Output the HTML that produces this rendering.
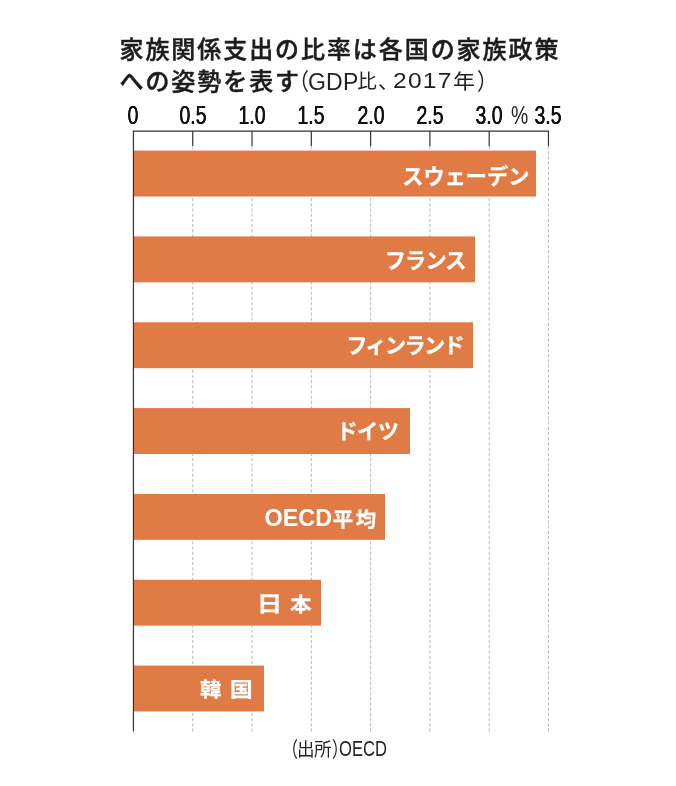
<!DOCTYPE html>
<html lang="ja"><head><meta charset="utf-8"><title>家族関係支出の比率</title>
<style>
html,body{margin:0;padding:0;background:#fff;}
body{width:676px;height:786px;position:relative;overflow:hidden;font-family:"Liberation Sans","Noto Sans CJK JP",sans-serif;color:#1a1a1a;}
.t{position:absolute;white-space:nowrap;line-height:1;}
.title{font-family:"Liberation Sans","Noto Sans CJK JP",sans-serif;font-weight:500;font-size:24px;left:119.5px;letter-spacing:1.93px;color:#1c1c1c;-webkit-text-stroke:0.45px #1c1c1c;}
.ax{font-size:25px;width:80px;text-align:center;transform:scaleX(0.775);transform-origin:50% 50%;top:102.6px;color:#111;text-shadow:0.27px 0 0 #111,-0.27px 0 0 #111;}
.lab{position:absolute;color:#fff;-webkit-text-stroke:0.25px #fff;font-family:"Liberation Sans","Noto Sans CJK JP",sans-serif;font-weight:700;font-size:21.2px;white-space:nowrap;line-height:1;}
.dk{position:absolute;white-space:nowrap;line-height:1;color:#222;font-family:"Liberation Sans","Noto Sans CJK JP",sans-serif;font-weight:400;}
svg{position:absolute;left:0;top:0;}
</style></head><body>
<div class="t title" id="t1" style="top:38px;">家族関係支出の比率は各国の家族政策</div>
<div class="t title" id="t2" style="top:69.5px;">への姿勢を表す</div>

<div class="t ax" style="left:93.45px;">0</div>
<div class="t ax" style="left:152.74px;">0.5</div>
<div class="t ax" style="left:212.03px;">1.0</div>
<div class="t ax" style="left:271.32px;">1.5</div>
<div class="t ax" style="left:330.61px;">2.0</div>
<div class="t ax" style="left:389.90px;">2.5</div>
<div class="t ax" style="left:449.19px;">3.0</div>
<div class="t ax" style="left:508.48px;">3.5</div>
<div class="t" id="pct" style="left:510.6px;top:103.2px;font-size:25px;transform:scaleX(0.775);transform-origin:0 50%;color:#222;">%</div>
<svg width="676" height="786" viewBox="0 0 676 786">
<line x1="192.74" y1="146" x2="192.74" y2="731.6" stroke="#b0b0b0" stroke-width="0.85" stroke-dasharray="3.3 1.9"/>
<line x1="192.74" y1="131.1" x2="192.74" y2="146" stroke="#333" stroke-width="1.2"/>
<line x1="252.03" y1="146" x2="252.03" y2="731.6" stroke="#b0b0b0" stroke-width="0.85" stroke-dasharray="3.3 1.9"/>
<line x1="252.03" y1="131.1" x2="252.03" y2="146" stroke="#333" stroke-width="1.2"/>
<line x1="311.32" y1="146" x2="311.32" y2="731.6" stroke="#b0b0b0" stroke-width="0.85" stroke-dasharray="3.3 1.9"/>
<line x1="311.32" y1="131.1" x2="311.32" y2="146" stroke="#333" stroke-width="1.2"/>
<line x1="370.61" y1="146" x2="370.61" y2="731.6" stroke="#b0b0b0" stroke-width="0.85" stroke-dasharray="3.3 1.9"/>
<line x1="370.61" y1="131.1" x2="370.61" y2="146" stroke="#333" stroke-width="1.2"/>
<line x1="429.90" y1="146" x2="429.90" y2="731.6" stroke="#b0b0b0" stroke-width="0.85" stroke-dasharray="3.3 1.9"/>
<line x1="429.90" y1="131.1" x2="429.90" y2="146" stroke="#333" stroke-width="1.2"/>
<line x1="489.19" y1="146" x2="489.19" y2="731.6" stroke="#b0b0b0" stroke-width="0.85" stroke-dasharray="3.3 1.9"/>
<line x1="489.19" y1="131.1" x2="489.19" y2="146" stroke="#333" stroke-width="1.2"/>
<line x1="548.48" y1="146" x2="548.48" y2="731.6" stroke="#b0b0b0" stroke-width="0.85" stroke-dasharray="3.3 1.9"/>
<line x1="548.48" y1="131.1" x2="548.48" y2="146" stroke="#333" stroke-width="1.2"/>
<rect x="133.45" y="150.60" width="402.55" height="45.9" fill="#e07b45"/>
<rect x="133.45" y="236.43" width="341.55" height="45.9" fill="#e07b45"/>
<rect x="133.45" y="322.26" width="339.55" height="45.9" fill="#e07b45"/>
<rect x="133.45" y="408.09" width="276.55" height="45.9" fill="#e07b45"/>
<rect x="133.45" y="493.92" width="251.55" height="45.9" fill="#e07b45"/>
<rect x="133.45" y="579.75" width="187.55" height="45.9" fill="#e07b45"/>
<rect x="133.45" y="665.58" width="130.55" height="45.9" fill="#e07b45"/>
<line x1="132.85" y1="131.1" x2="549.08" y2="131.1" stroke="#333" stroke-width="1.2"/>
<line x1="133.45" y1="131.1" x2="133.45" y2="731.6" stroke="#333" stroke-width="1.2"/>
</svg>
<div class="lab" id="p0" style="left:402.31px;top:166.41px;">スウェーデン</div>
<div class="lab" id="p1" style="left:384.74px;top:250.10px;letter-spacing:-0.85px;">フランス</div>
<div class="lab" id="p2" style="left:346.26px;top:335.00px;letter-spacing:-1.65px;">フィンランド</div>
<div class="lab" id="p3" style="left:336.41px;top:420.86px;letter-spacing:-0.5px;">ドイツ</div>
<div class="lab" id="p4" style="left:264.54px;top:507.00px;font-size:23.4px;letter-spacing:0px;-webkit-text-stroke:0;">OECD</div>
<div class="lab" id="p5" style="left:332.78px;top:509.72px;font-size:20.5px;letter-spacing:2.6px;">平均</div>
<div class="lab" id="p6" style="left:256.98px;top:593.38px;font-size:21px;transform:scaleX(1.2);transform-origin:0 50%;">日</div>
<div class="lab" id="p7" style="left:289.55px;top:595.22px;font-size:20px;transform:scaleX(1.07);transform-origin:0 50%;">本</div>
<div class="lab" id="p8" style="left:200.45px;top:680.20px;font-size:20.3px;transform:scaleX(1.06);transform-origin:0 50%;">韓</div>
<div class="lab" id="p9" style="left:229.56px;top:679.60px;font-size:20.3px;transform:scaleX(1.12);transform-origin:0 50%;">国</div>
<div class="dk" id="d0" style="left:285.77px;top:70.99px;font-size:23px;transform:scaleX(0.88);transform-origin:100% 50%;">（</div>
<div class="dk" id="d1" style="left:308.03px;top:70.50px;font-family:'Liberation Sans',sans-serif;font-size:23px;letter-spacing:0.2px;">GDP</div>
<div class="dk" id="d2" style="left:357.26px;top:71.72px;font-size:19.6px;">比</div>
<div class="dk" id="d3" style="left:377.95px;top:69.75px;font-size:21px;">、</div>
<div class="dk" id="d4" style="left:392.92px;top:69.00px;font-family:'Liberation Sans',sans-serif;font-size:22.8px;letter-spacing:1.1px;transform:scaleX(1.08);transform-origin:0 50%;">2017</div>
<div class="dk" id="d5" style="left:453.45px;top:71.86px;font-size:20.4px;transform:scaleX(1.08);transform-origin:0 50%;">年</div>
<div class="dk" id="d6" style="left:476.93px;top:70.88px;font-size:23px;transform:scaleX(0.88);transform-origin:0 50%;">）</div>
<div class="dk" id="d7" style="left:276.97px;top:738.83px;font-size:21px;transform:scaleX(0.75);transform-origin:100% 50%;">（</div>
<div class="dk" id="d8" style="left:296.67px;top:741.44px;font-size:18.7px;letter-spacing:-0.7px;transform:scaleX(0.94);transform-origin:0 50%;">出所</div>
<div class="dk" id="d9" style="left:332.04px;top:738.82px;font-size:21px;transform:scaleX(0.75);transform-origin:0 50%;">）</div>
<div class="dk" id="d10" style="left:339.36px;top:739.00px;font-family:'Liberation Sans',sans-serif;font-size:21.3px;transform:scaleX(0.78);transform-origin:0 50%;">OECD</div>
</body></html>
